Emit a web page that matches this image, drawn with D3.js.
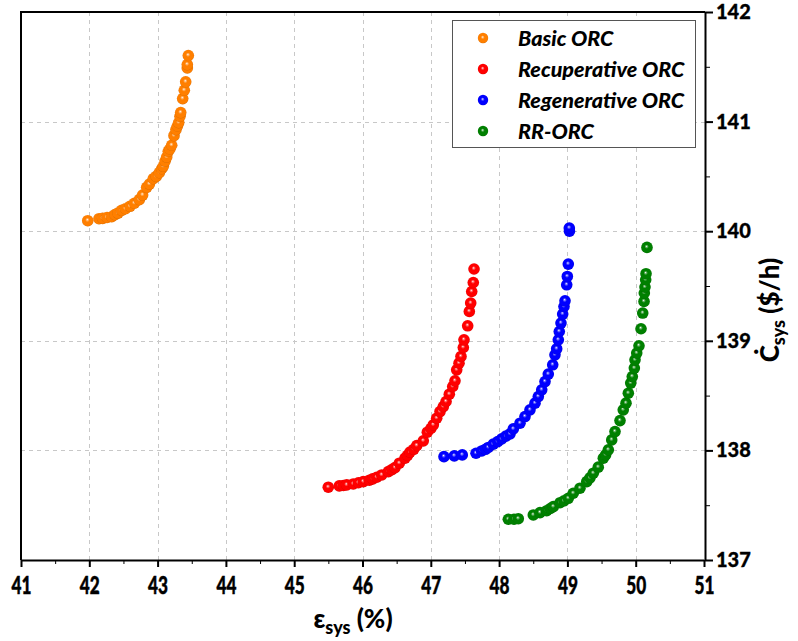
<!DOCTYPE html>
<html>
<head>
<meta charset="utf-8">
<script src="https://cdn.jsdelivr.net/npm/d3@7"></script>
<style>
  body { margin: 0; background: #fff; }
  svg { display: block; }
</style>
</head>
<body>
<svg id="chart" width="798" height="641"></svg>
<script>
// Pareto fronts: exergy efficiency (%) vs. total cost rate ($/h)
const seriesNames = ["Basic ORC", "Recuperative ORC", "Regenerative ORC", "RR-ORC"];
const seriesColors = ["#ff7f00", "#ff0000", "#0000ff", "#008000"];

const basicX = [41.977, 42.142, 42.196, 42.26, 42.328, 42.376, 42.42, 42.474, 42.53, 42.596, 42.66, 42.732, 42.78, 42.84, 42.88, 42.937, 42.98, 43.025, 43.06, 43.083, 43.11, 43.133, 43.157, 43.18, 43.206, 43.24, 43.269, 43.29, 43.309, 43.328, 43.338, 43.367, 43.391, 43.411, 43.435, 43.435, 43.45];
const basicY = [140.096, 140.114, 140.117, 140.125, 140.132, 140.151, 140.165, 140.19, 140.205, 140.227, 140.255, 140.288, 140.33, 140.4, 140.43, 140.479, 140.5, 140.534, 140.57, 140.592, 140.64, 140.676, 140.729, 140.75, 140.784, 140.872, 140.927, 140.96, 140.991, 141.048, 141.082, 141.21, 141.286, 141.363, 141.49, 141.52, 141.603];

const recupX = [45.499, 45.66, 45.72, 45.769, 45.865, 45.94, 46.012, 46.1, 46.15, 46.208, 46.281, 46.378, 46.43, 46.476, 46.539, 46.622, 46.66, 46.695, 46.75, 46.794, 46.89, 46.949, 47.0, 47.037, 47.086, 47.135, 47.183, 47.223, 47.271, 47.321, 47.354, 47.379, 47.413, 47.442, 47.476, 47.486, 47.54, 47.564, 47.584, 47.599, 47.622, 47.633];
const recupY = [137.664, 137.676, 137.68, 137.685, 137.694, 137.705, 137.715, 137.728, 137.74, 137.755, 137.776, 137.806, 137.825, 137.843, 137.883, 137.929, 137.955, 137.984, 138.01, 138.044, 138.087, 138.166, 138.2, 138.233, 138.294, 138.354, 138.4, 138.446, 138.513, 138.583, 138.635, 138.735, 138.796, 138.857, 138.939, 139.009, 139.137, 139.268, 139.344, 139.45, 139.532, 139.655];

const regenX = [47.193, 47.344, 47.461, 47.662, 47.745, 47.8, 47.842, 47.915, 47.98, 48.038, 48.1, 48.16, 48.208, 48.306, 48.379, 48.452, 48.526, 48.574, 48.624, 48.672, 48.72, 48.785, 48.818, 48.843, 48.867, 48.881, 48.906, 48.931, 48.95, 48.965, 48.99, 48.999, 49.013, 49.03, 49.028];
const regenY = [137.943, 137.95, 137.959, 137.974, 137.995, 138.01, 138.027, 138.057, 138.08, 138.105, 138.13, 138.151, 138.196, 138.248, 138.309, 138.37, 138.431, 138.491, 138.553, 138.628, 138.696, 138.781, 138.872, 138.927, 139.009, 139.085, 139.162, 139.244, 139.313, 139.365, 139.511, 139.587, 139.7, 140.0, 140.029];

const rrX = [48.135, 48.218, 48.281, 48.501, 48.599, 48.697, 48.75, 48.794, 48.892, 48.95, 49.013, 49.086, 49.184, 49.283, 49.33, 49.379, 49.452, 49.526, 49.56, 49.599, 49.649, 49.697, 49.77, 49.818, 49.858, 49.892, 49.927, 49.95, 49.98, 49.99, 50.015, 50.048, 50.078, 50.103, 50.122, 50.126, 50.136, 50.146, 50.151, 50.165];
const rrY = [137.372, 137.372, 137.377, 137.411, 137.432, 137.45, 137.47, 137.487, 137.523, 137.54, 137.563, 137.609, 137.655, 137.715, 137.75, 137.792, 137.847, 137.929, 137.96, 138.005, 138.096, 138.172, 138.272, 138.37, 138.431, 138.522, 138.614, 138.674, 138.751, 138.826, 138.888, 138.954, 139.11, 139.253, 139.359, 139.436, 139.49, 139.557, 139.612, 139.852];

const xMajorTicks = [41, 42, 43, 44, 45, 46, 47, 48, 49, 50, 51];
const xMinorTicks = [41.5, 42.5, 43.5, 44.5, 45.5, 46.5, 47.5, 48.5, 49.5, 50.5];
const yMajorTicks = [137, 138, 139, 140, 141, 142];
const yMinorTicks = [137.5, 138.5, 139.5, 140.5, 141.5];

const seriesX = [basicX, recupX, regenX, rrX];
const seriesY = [basicY, recupY, regenY, rrY];

const svg = d3.select("#chart");
const plotLeft = 21, plotRight = 705, plotTop = 12, plotBottom = 560;

const x = d3.scaleLinear().domain([41, 51]).range([plotLeft, plotRight - 1]);
const y = d3.scaleLinear().domain([137, 142]).range([plotBottom, plotTop]);

// glossy sphere gradients
const defs = svg.append("defs");
seriesColors.forEach((c, i) => {
  const base = d3.color(c);
  const g = defs.append("radialGradient")
    .attr("id", "ball" + i)
    .attr("cx", "50%").attr("cy", "50%").attr("r", "55%")
    .attr("fx", "46%").attr("fy", "40%");
  g.append("stop").attr("offset", "0%").attr("stop-color", "#ffffff");
  g.append("stop").attr("offset", "14%").attr("stop-color", d3.interpolateRgb("#ffffff", c)(0.55));
  g.append("stop").attr("offset", "34%").attr("stop-color", c);
  g.append("stop").attr("offset", "80%").attr("stop-color", c);
  g.append("stop").attr("offset", "100%").attr("stop-color", base.darker(0.7).formatHex());
});

// grid
const grid = svg.append("g").attr("stroke", "#c8c8c8").attr("stroke-width", 1).attr("stroke-dasharray", "4,4");
grid.selectAll("line.gx").data(xMajorTicks.slice(1, -1)).join("line")
  .attr("x1", d => Math.round(x(d)) + 0.5).attr("x2", d => Math.round(x(d)) + 0.5)
  .attr("y1", plotTop).attr("y2", plotBottom);
grid.selectAll("line.gy").data(yMajorTicks.slice(1, -1)).join("line")
  .attr("y1", d => Math.round(y(d)) + 0.5).attr("y2", d => Math.round(y(d)) + 0.5)
  .attr("x1", plotLeft).attr("x2", plotRight);

// frame (left and top edges)
svg.append("path")
  .attr("d", `M${plotLeft},${plotBottom}V${plotTop}H${plotRight}`)
  .attr("fill", "none").attr("stroke", "#000").attr("stroke-width", 2);

// bottom axis
const fontAxis = "Lato, 'Open Sans', sans-serif";
const xAxis = svg.append("g").attr("transform", `translate(0,${plotBottom})`)
  .call(d3.axisBottom(x).tickValues(xMajorTicks).tickSize(7).tickSizeOuter(0).tickPadding(5).tickFormat(d3.format("d")));
svg.append("g").attr("transform", `translate(0,${plotBottom})`)
  .call(d3.axisBottom(x).tickValues(xMinorTicks).tickSize(4).tickSizeOuter(0).tickFormat(""))
  .call(g => g.select(".domain").remove());
xAxis.select(".domain").attr("stroke-width", 2);
xAxis.selectAll(".tick line").attr("stroke-width", 2);
xAxis.selectAll(".tick text")
  .attr("font-family", fontAxis).attr("font-weight", 900).attr("font-size", 21).attr("fill", "#000")
  .attr("dy", null).attr("dominant-baseline", "hanging")
  .attr("stroke", "#000").attr("stroke-width", 0.4)
  .attr("transform", "scale(0.82,1.2)");

// right axis
const yAxis = svg.append("g").attr("transform", `translate(${plotRight},0)`)
  .call(d3.axisRight(y).tickValues(yMajorTicks).tickSize(8).tickSizeOuter(0).tickPadding(3).tickFormat(d3.format("d")));
svg.append("g").attr("transform", `translate(${plotRight},0)`)
  .call(d3.axisRight(y).tickValues(yMinorTicks).tickSize(5).tickSizeOuter(0).tickFormat(""))
  .call(g => g.select(".domain").remove());
yAxis.select(".domain").attr("stroke-width", 2);
yAxis.selectAll(".tick line").attr("stroke-width", 2);
yAxis.selectAll(".tick text")
  .attr("font-family", fontAxis).attr("font-weight", 900).attr("font-size", 20).attr("fill", "#000")
  .attr("stroke", "#000").attr("stroke-width", 0.3);
svg.selectAll(".tick line").attr("stroke", "#000");

// data points
seriesNames.forEach((name, i) => {
  const pts = seriesX[i].map((v, k) => [v, seriesY[i][k]]);
  svg.append("g").attr("class", "series")
    .selectAll("circle").data(pts).join("circle")
    .attr("cx", d => x(d[0])).attr("cy", d => y(d[1]))
    .attr("r", 5.8)
    .attr("fill", `url(#ball${i})`);
});

// legend
const legend = svg.append("g");
legend.append("rect").attr("x", 452.5).attr("y", 20.5).attr("width", 243).attr("height", 127)
  .attr("fill", "#fff").attr("stroke", "#555").attr("stroke-width", 1);
seriesNames.forEach((name, i) => {
  const ly = 38 + i * 31;
  legend.append("circle").attr("cx", 483).attr("cy", ly).attr("r", 5.2).attr("fill", `url(#ball${i})`);
  legend.append("text").attr("x", 518).attr("y", ly).attr("dy", "0.36em")
    .attr("font-family", fontAxis).attr("font-weight", 900).attr("font-style", "italic")
    .attr("font-size", 21.5).attr("fill", "#000").text(name);
});

// axis titles
const xt = svg.append("text").attr("x", 353).attr("y", 628).attr("text-anchor", "middle")
  .attr("font-family", fontAxis).attr("font-weight", 900).attr("font-size", 26).attr("fill", "#000");
xt.append("tspan").text("ɛ");
xt.append("tspan").attr("font-size", 18).attr("dy", 6).text("sys");
xt.append("tspan").attr("dy", -6).text(" (%)");

const yt = svg.append("text").attr("transform", "translate(779,310) rotate(-90)").attr("text-anchor", "middle")
  .attr("font-family", fontAxis).attr("font-weight", 900).attr("font-size", 26).attr("fill", "#000");
yt.append("tspan").text("Ċ");
yt.append("tspan").attr("font-size", 18).attr("dy", 6).text("sys");
yt.append("tspan").attr("dy", -6).text(" ($/h)");
</script>
</body>
</html>
